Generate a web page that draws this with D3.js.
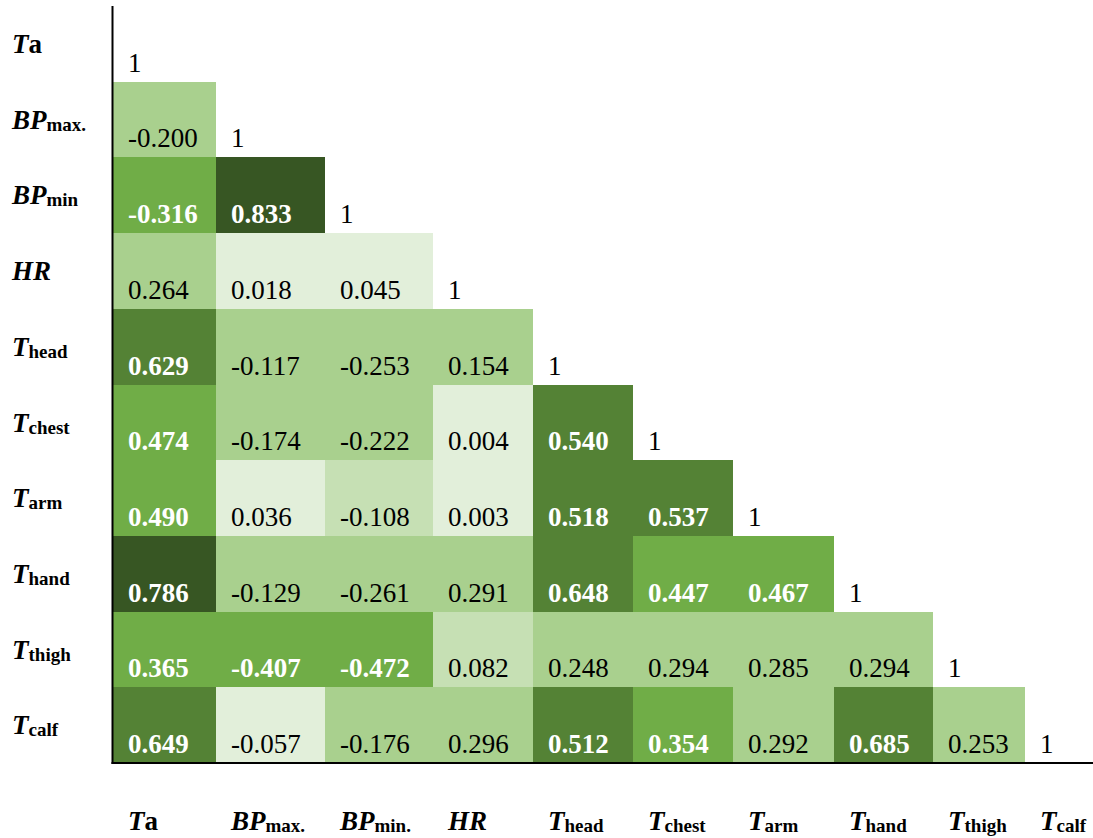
<!DOCTYPE html>
<html>
<head>
<meta charset="utf-8">
<script src="https://cdn.jsdelivr.net/npm/d3@7"></script>
<style>
  html, body { margin: 0; padding: 0; background: #fff; }
  svg { display: block; }
</style>
</head>
<body>
<svg id="chart" width="1093" height="838" font-family="'Liberation Serif', 'Times New Roman', Times, 'DejaVu Serif', serif"></svg>
<script>
// ---- data ----
const variables = ["Ta", "BPmax", "BPmin", "HR", "Thead", "Tchest", "Tarm", "Thand", "Tthigh", "Tcalf"];
const rowLabelMain = ["T", "BP", "BP", "HR", "T", "T", "T", "T", "T", "T"];
const rowLabelSub  = ["a", "max.", "min", "", "head", "chest", "arm", "hand", "thigh", "calf"];
const colLabelMain = ["T", "BP", "BP", "HR", "T", "T", "T", "T", "T", "T"];
const colLabelSub  = ["a", "max.", "min.", "", "head", "chest", "arm", "hand", "thigh", "calf"];
// lower-triangular correlation matrix (row i: correlations with columns 0..i)
const corrTa     = [1];
const corrBPmax  = [-0.200, 1];
const corrBPmin  = [-0.316, 0.833, 1];
const corrHR     = [0.264, 0.018, 0.045, 1];
const corrThead  = [0.629, -0.117, -0.253, 0.154, 1];
const corrTchest = [0.474, -0.174, -0.222, 0.004, 0.540, 1];
const corrTarm   = [0.490, 0.036, -0.108, 0.003, 0.518, 0.537, 1];
const corrThand  = [0.786, -0.129, -0.261, 0.291, 0.648, 0.447, 0.467, 1];
const corrTthigh = [0.365, -0.407, -0.472, 0.082, 0.248, 0.294, 0.285, 0.294, 1];
const corrTcalf  = [0.649, -0.057, -0.176, 0.296, 0.512, 0.354, 0.292, 0.685, 0.253, 1];
const corrRows = [corrTa, corrBPmax, corrBPmin, corrHR, corrThead, corrTchest, corrTarm, corrThand, corrTthigh, corrTcalf];
// colour classes by |r|
const absThresholds = [0.06, 0.11, 0.3, 0.5, 0.7];
const classColors = ["#e2efda", "#c6e0b4", "#a9d08e", "#70ad47", "#548235", "#375623"];

// ---- layout ----
const mLeft = 113, mTop = 6, mBottom = 763, mRight = 1093;
const colWidthWeights = [103, 109, 108, 100, 100, 100, 101, 99, 92, 68];
const serif = "'Liberation Serif', 'Times New Roman', Times, 'DejaVu Serif', serif";

const svg = d3.select("#chart");
const fmt = d3.formatLocale({decimal: ".", thousands: ",", grouping: [3], currency: ["", ""], minus: "-"}).format(".3f");

const colStarts = [0, ...d3.cumsum(colWidthWeights)];
const unitScale = d3.scaleLinear().domain([0, d3.sum(colWidthWeights)]).range([mLeft, mRight]);
const x = d3.scaleOrdinal().domain(variables).range(colStarts.slice(0, -1).map(unitScale));
const xw = d3.scaleOrdinal().domain(variables).range(colWidthWeights.map(w => unitScale(w) - unitScale(0)));
const y = d3.scaleBand().domain(variables).range([mTop, mBottom]).padding(0);
const color = d3.scaleThreshold().domain(absThresholds).range(classColors);
const strong = d3.scaleThreshold().domain([0.3]).range([false, true]);

const cells = [];
corrRows.forEach((row, i) => row.forEach((v, j) => cells.push({r: variables[i], c: variables[j], v, diag: i === j})));

const offDiag = cells.filter(d => !d.diag);
svg.append("g").selectAll("rect").data(offDiag).join("rect")
  .attr("x", d => x(d.c))
  .attr("y", d => y(d.r))
  .attr("width", d => xw(d.c))
  .attr("height", y.bandwidth())
  .attr("fill", d => color(Math.abs(d.v)))
  .attr("shape-rendering", "crispEdges");

svg.append("g").selectAll("text").data(cells).join("text")
  .attr("x", d => x(d.c) + 15)
  .attr("y", d => y(d.r) + y.bandwidth() - 10)
  .attr("font-family", serif)
  .attr("font-size", 27)
  .attr("font-weight", d => (!d.diag && strong(Math.abs(d.v))) ? "bold" : "normal")
  .attr("fill", d => (!d.diag && strong(Math.abs(d.v))) ? "#ffffff" : "#000000")
  .text(d => d.diag ? "1" : fmt(d.v));

// axes lines
svg.append("line").attr("x1", mLeft - 0.5).attr("x2", mLeft - 0.5).attr("y1", mTop).attr("y2", mBottom + 1)
  .attr("stroke", "#000").attr("stroke-width", 2);
svg.append("line").attr("x1", mLeft - 1.5).attr("x2", mRight).attr("y1", mBottom).attr("y2", mBottom)
  .attr("stroke", "#000").attr("stroke-width", 2);

function addLabel(g, main, sub) {
  const t = g.append("text").attr("font-family", serif).attr("font-weight", "bold");
  t.append("tspan").attr("font-style", "italic").attr("font-size", 27).text(main);
  if (sub === "a") {
    t.append("tspan").attr("font-size", 27).text(sub);
  } else if (sub) {
    t.append("tspan").attr("font-size", 19).attr("dy", 2).text(sub);
  }
  return t;
}

// row labels
variables.forEach((v, i) => {
  const g = svg.append("g").attr("transform", `translate(12,${y(v) + 47})`);
  addLabel(g, rowLabelMain[i], rowLabelSub[i]);
});
// column labels
variables.forEach((v, i) => {
  const g = svg.append("g").attr("transform", `translate(${x(v) + 15},830)`);
  addLabel(g, colLabelMain[i], colLabelSub[i]);
});
</script>
</body>
</html>
